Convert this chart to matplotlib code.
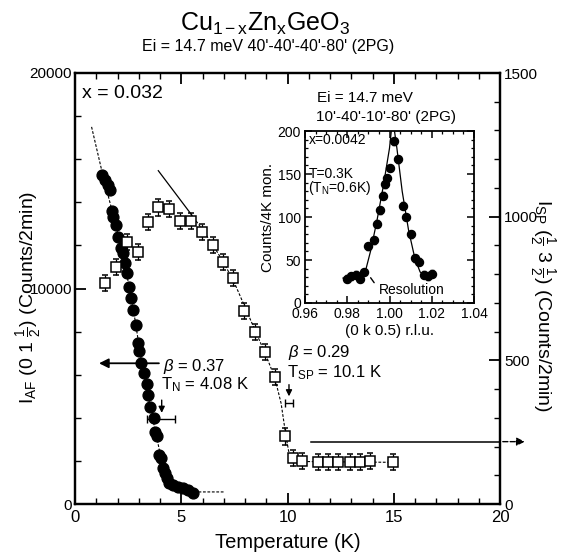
import matplotlib
matplotlib.use("Agg")
import matplotlib.pyplot as plt
from matplotlib.ticker import MultipleLocator

plt.rcParams['font.family'] = ['Liberation Sans', 'DejaVu Sans']
plt.rcParams['mathtext.fontset'] = 'custom'
plt.rcParams['mathtext.rm'] = 'Liberation Sans'
plt.rcParams['mathtext.it'] = 'Liberation Sans:italic'
plt.rcParams['mathtext.bf'] = 'Liberation Sans:bold'

# ---------------- data ----------------
# I_AF (0 1 1/2), filled circles, left axis
af_T = [1.29, 1.41, 1.54, 1.65, 1.73, 1.80, 1.93, 2.04, 2.15, 2.24, 2.35, 2.46, 2.56,
        2.64, 2.73, 2.85, 2.97, 3.03, 3.09, 3.25, 3.37, 3.45, 3.53, 3.72, 3.76, 3.84,
        3.97, 4.03, 4.16, 4.24, 4.31, 4.44, 4.63, 4.86, 5.10, 5.33, 5.57]
af_I = [15270, 15030, 14800, 14570, 13600, 13330, 12960, 12380, 11860, 11630, 11170,
        10700, 10080, 9540, 9000, 8300, 7490, 7110, 6530, 6060, 5570, 5060, 4520, 3980,
        3360, 3160, 2270, 2120, 1660, 1420, 1190, 990, 880, 800, 730, 650, 520]
af_fit_T = [0.78, 1.3, 1.8, 2.3, 2.8, 3.1, 3.5, 3.8, 4.1, 4.4, 4.8, 5.3, 5.6, 7.0]
af_fit_I = [17500, 15300, 13400, 11400, 8700, 6800, 4700, 3300, 1900, 1050, 780, 640, 560, 560]

# I_SP (1/2 3 1/2), open squares, right axis
sp_T = [1.41, 1.93, 2.43, 2.95, 3.42, 3.92, 4.42, 4.94, 5.44, 5.96, 6.48, 6.98, 7.45,
        7.95, 8.47, 8.94, 9.41, 9.90, 10.25, 10.67, 11.45, 11.92, 12.39, 12.94, 13.41,
        13.88, 14.98]
sp_I = [770, 826, 913, 878, 980, 1032, 1028, 985, 986, 948, 901, 843, 788, 672, 600,
        530, 443, 235, 160, 150, 147, 147, 147, 147, 147, 150, 147]
sp_err = 28
sp_fit_solid_T = [3.92, 5.45]
sp_fit_solid_I = [1160, 1010]
sp_fit_T = [5.45, 6.0, 6.5, 7.0, 7.5, 8.0, 8.5, 9.0, 9.4, 9.7, 9.9, 10.05, 10.2, 10.5, 15.0]
sp_fit_I = [1010, 955, 900, 840, 770, 685, 600, 515, 440, 350, 250, 185, 155, 148, 145]

# inset: (0 k 0.5) scan
in_k = [0.980, 0.982, 0.984, 0.986, 0.988, 0.990, 0.9925, 0.994, 0.9957, 0.997, 0.998,
        0.999, 1.000, 1.002, 1.004, 1.0065, 1.008, 1.010, 1.012, 1.014, 1.0165, 1.018, 1.020]
in_I = [28, 31, 33, 28, 36, 66, 73, 92, 108, 125, 138, 145, 157, 188, 167, 113, 100, 80,
        52, 48, 33, 31, 34]
in_fit_k = [0.978, 0.986, 0.9885, 0.991, 0.994, 0.997, 1.000, 1.0015, 1.0035, 1.006,
            1.009, 1.012, 1.0145, 1.017, 1.021]
in_fit_I = [29, 30, 36, 60, 95, 135, 180, 215, 180, 130, 85, 52, 36, 32, 32]

xticks_main = [0, 5, 10, 15, 20]
yticks_left = [0, 10000, 20000]
yticks_right = [0, 500, 1000, 1500]
xticks_inset = [0.96, 0.98, 1.00, 1.02, 1.04]
yticks_inset = [0, 50, 100, 150, 200]

# ---------------- figure ----------------
W, H = 564, 556
fig = plt.figure(figsize=(W / 100, H / 100), dpi=100)
ax = fig.add_axes([75 / W, 1 - 504 / H, 425 / W, 431 / H])
ax2 = ax.twinx()

for a in (ax, ax2):
    for s in a.spines.values():
        s.set_linewidth(1.6)

ax.set_xlim(0, 20)
ax.set_ylim(0, 20000)
ax2.set_ylim(0, 1500)
ax.set_xticks(xticks_main)
ax.set_xticklabels([str(v) for v in xticks_main])
ax.xaxis.set_minor_locator(MultipleLocator(1))
ax.set_yticks(yticks_left)
ax.set_yticklabels([str(v) for v in yticks_left])
ax.yaxis.set_minor_locator(MultipleLocator(2000))
ax2.set_yticks(yticks_right)
ax2.set_yticklabels([str(v) for v in yticks_right])
ax2.yaxis.set_minor_locator(MultipleLocator(100))

ax.tick_params(axis='x', which='both', direction='in', top=True, labelsize=12, pad=4)
ax.tick_params(axis='y', which='both', direction='in', right=False, labelsize=11, pad=2)
ax.tick_params(which='major', length=8, width=1.3)
ax.tick_params(which='minor', length=4, width=1.0)
ax2.tick_params(axis='y', which='both', direction='in', labelsize=11, pad=3)
ax2.tick_params(which='major', length=8, width=1.3)
ax2.tick_params(which='minor', length=4, width=1.0)

# AF data
ax.plot(af_fit_T, af_fit_I, color='black', lw=0.8, ls=(0, (2.5, 1.5)), zorder=2)
ax.plot(af_T, af_I, 'o', color='black', ms=7.8, zorder=3)

# SP data
ax2.plot(sp_fit_solid_T, sp_fit_solid_I, color='black', lw=0.9, zorder=2)
ax2.plot(sp_fit_T, sp_fit_I, color='black', lw=0.8, ls=(0, (2.5, 1.5)), zorder=2)
ax2.errorbar(sp_T, sp_I, yerr=sp_err, fmt='s', mfc='white', mec='black', mew=1.1,
             ecolor='black', elinewidth=0.9, capsize=2, ms=6.8, zorder=3)

# arrows and markers
ax.annotate('', xy=(1.0, 6530), xytext=(4.08, 6530),
            arrowprops=dict(arrowstyle='-|>', color='black', lw=1.3, mutation_scale=14))
ax.annotate('', xy=(4.08, 4100), xytext=(4.08, 4950),
            arrowprops=dict(arrowstyle='-|>', color='black', lw=1.0, mutation_scale=9))
ax.errorbar([4.04], [3930], xerr=[[0.67], [0.67]], fmt='none', ecolor='black',
            elinewidth=1.0, capsize=3)
ax2.annotate('', xy=(10.07, 365), xytext=(10.07, 425),
             arrowprops=dict(arrowstyle='-|>', color='black', lw=1.0, mutation_scale=9))
ax2.errorbar([10.07], [350], xerr=[[0.17], [0.17]], fmt='none', ecolor='black',
             elinewidth=1.0, capsize=3)
ax2.plot([11.1, 20.0], [217, 217], color='black', lw=1.1, clip_on=False)
ax2.annotate('', xy=(21.3, 217), xytext=(20.0, 217), annotation_clip=False,
             arrowprops=dict(arrowstyle='-|>', color='black', lw=1.0, ls='--',
                             mutation_scale=12))

# texts
def ftext(x, y, s, **kw):
    fig.text(x / W, 1 - y / H, s, **kw)

ftext(265, 24, r'Cu$_{\mathrm{1-x}}$Zn$_{\mathrm{x}}$GeO$_{3}$', fontsize=18,
      ha='center', va='center')
ftext(268, 46, "Ei = 14.7 meV 40'-40'-40'-80' (2PG)", fontsize=11.5,
      ha='center', va='center')
ftext(82, 93, 'x = 0.032', fontsize=14, ha='left', va='center')
ftext(163, 366, r'$\beta$ = 0.37', fontsize=12, ha='left', va='center')
ftext(161, 385, r'T$_{\mathrm{N}}$ = 4.08 K', fontsize=12, ha='left', va='center')
ftext(288, 353, r'$\beta$ = 0.29', fontsize=12, ha='left', va='center')
ftext(287, 373, r'T$_{\mathrm{SP}}$ = 10.1 K', fontsize=12, ha='left', va='center')

ax.set_xlabel('Temperature (K)', fontsize=14.5, labelpad=6)
ax.set_ylabel(r'I$_{\mathrm{AF}}$ (0 1 $\frac{1}{2}$) (Counts/2min)', fontsize=14,
              va='center')
ax.yaxis.set_label_coords(-0.108, 0.48)
ax2.set_ylabel(r'I$_{\mathrm{SP}}$ ($\frac{1}{2}$ 3 $\frac{1}{2}$) (Counts/2min)',
               fontsize=14, rotation=270, va='center')
ax2.yaxis.set_label_coords(1.098, 0.46)

# inset
axi = fig.add_axes([305 / W, 1 - 303 / H, 169 / W, 172 / H])
for s in axi.spines.values():
    s.set_linewidth(1.3)
axi.set_xlim(0.96, 1.04)
axi.set_ylim(0, 200)
axi.set_xticks(xticks_inset)
axi.set_xticklabels(['%.2f' % v for v in xticks_inset])
axi.set_yticks(yticks_inset)
axi.set_yticklabels([str(v) for v in yticks_inset])
axi.xaxis.set_minor_locator(MultipleLocator(0.005))
axi.yaxis.set_minor_locator(MultipleLocator(10))
axi.tick_params(which='both', direction='in', top=True, right=True, labelsize=10, pad=3)
axi.tick_params(which='major', length=5, width=1.1)
axi.tick_params(which='minor', length=2.5, width=0.9)
axi.plot(in_fit_k, in_fit_I, color='black', lw=0.9, zorder=2)
axi.errorbar(in_k, in_I, yerr=4, fmt='o', color='black', ms=5.8, elinewidth=0.8,
             capsize=1.5, zorder=3, clip_on=True)
axi.set_xlabel('(0 k 0.5) r.l.u.', fontsize=11, labelpad=2)
axi.set_ylabel('Counts/4K mon.', fontsize=11, labelpad=2)
axi.text(0.995, 15, 'Resolution', fontsize=10, ha='left', va='center')
axi.annotate('', xy=(0.9903, 32), xytext=(0.9935, 21),
             arrowprops=dict(arrowstyle='-', color='black', lw=1.0))
axi.text(0.02, 0.95, 'x=0.0042', transform=axi.transAxes, fontsize=10,
         ha='left', va='center')
axi.text(0.02, 0.75, 'T=0.3K', transform=axi.transAxes, fontsize=10,
         ha='left', va='center')
axi.text(0.02, 0.67, r'(T$_{\mathrm{N}}$=0.6K)', transform=axi.transAxes, fontsize=10,
         ha='left', va='center')

ftext(317, 98, 'Ei = 14.7 meV', fontsize=11, ha='left', va='center')
ftext(316, 117, "10'-40'-10'-80' (2PG)", fontsize=11, ha='left', va='center')

fig.savefig('out.png', dpi=100)
